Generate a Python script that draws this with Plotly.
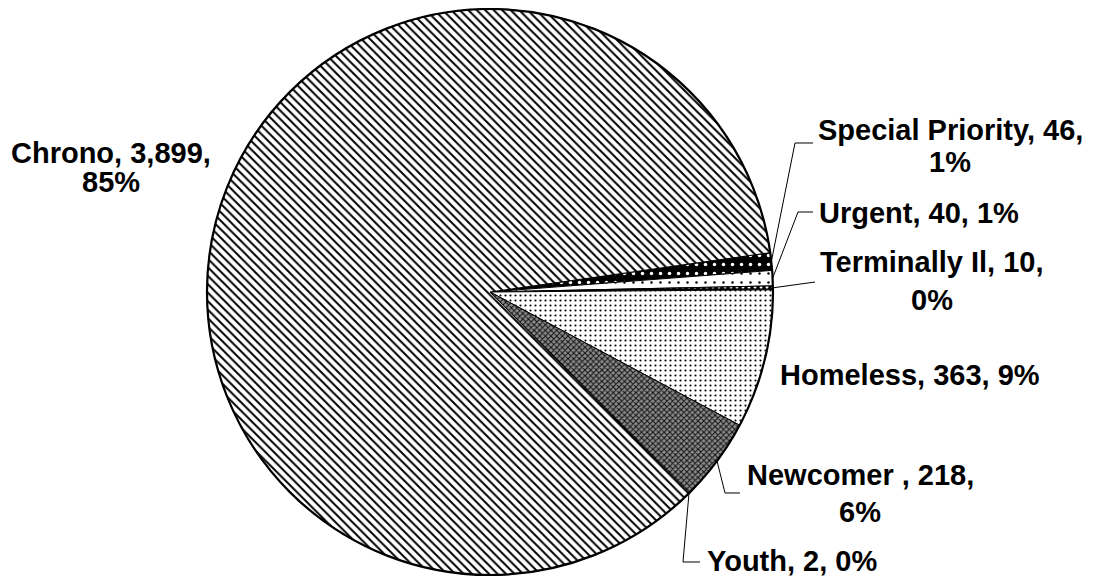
import math
import plotly.graph_objects as go

# slices in drawing order, clockwise starting at Special Priority
categories = ["Special Priority", "Urgent", "Terminally Il", "Homeless", "Newcomer ", "Youth", "Chrono"]
counts = [46, 40, 10, 363, 218, 2, 3899]
pct_labels = ["1%", "1%", "0%", "9%", "6%", "0%", "85%"]

W, H = 1098, 579
OFF = 8  # page body margin the figure sits inside
CX, CY, R = 490, 292, 283  # pie centre / radius in screen px
ROTATION = 82

# fill patterns (black & white print style)
shapes_pat = [".", ".", ".", ".", "x", "x", "\\"]
bg = ["#000000", "#ffffff", "#000000", "#ffffff", "#8c8c8c", "#ffffff", "#ffffff"]
fg = ["#ffffff", "#000000", "#ffffff", "#000000", "#111111", "#000000", "#000000"]
pat_size = [9, 9, 6, 5, 4, 4, 6]
solidity = [0.12, 0.06, 0.2, 0.15, 0.45, 0.3, 0.33]

# label placement: centre x, y of each line, leader elbow/end (screen px)
label_pos = {
    "Special Priority": dict(x=950, y=[130, 162], elbow=(795, 143), end=(813, 143), wrap=True),
    "Urgent": dict(x=919, y=[213], elbow=(798, 212), end=(813, 212), wrap=False),
    "Terminally Il": dict(x=932, y=[262, 300], elbow=None, end=(815, 282), wrap=True),
    "Homeless": dict(x=910, y=[375], wrap=False),
    "Newcomer ": dict(x=860, y=[475, 512], elbow=(725, 493), end=(740, 493), wrap=True),
    "Youth": dict(x=792, y=[561], elbow=(683, 562), end=(700, 562), wrap=False),
    "Chrono": dict(x=111, y=[153, 182], wrap=True),
}


def px(x):
    return (x - OFF) / W


def py(y):
    return 1 - (y - OFF) / H


domain = dict(x=[px(CX - R), px(CX + R)], y=[py(CY + R), py(CY - R)])

fig = go.Figure()
fig.add_trace(go.Pie(
    labels=categories,
    values=counts,
    sort=False,
    direction="clockwise",
    rotation=ROTATION,
    domain=domain,
    textinfo="none",
    marker=dict(
        colors=bg,
        line=dict(color="#000000", width=1),
        pattern=dict(shape=shapes_pat, fgcolor=fg, bgcolor=bg, size=pat_size,
                     solidity=solidity, fillmode="replace"),
    ),
    hovertemplate="%{label}: %{value}<extra></extra>",
    showlegend=False,
))
# heavier outline round the whole pie
fig.add_trace(go.Pie(
    values=[1], sort=False, domain=domain, textinfo="none", hoverinfo="skip",
    marker=dict(colors=["rgba(0,0,0,0)"], line=dict(color="#000000", width=2.2)),
    showlegend=False,
))

total = sum(counts)
font = dict(family="Liberation Sans, Arial, sans-serif", size=29, color="#000000")
annotations = []
shapes = []
start = ROTATION
for cat, cnt, pct in zip(categories, counts, pct_labels):
    span = 360 * cnt / total
    mid = math.radians(start + span / 2)
    start += span
    pos = label_pos[cat]
    head = f"{cat}, {cnt:,},"
    lines = [head, pct] if pos["wrap"] else [f"{head} {pct}"]
    for text, yy in zip(lines, pos["y"]):
        annotations.append(dict(
            x=px(pos["x"]), y=py(yy), xref="paper", yref="paper",
            text=f"<b>{text}</b>", showarrow=False, font=font,
            xanchor="center", yanchor="middle",
        ))
    if "end" in pos:
        sx = CX + R * math.sin(mid)
        sy = CY - R * math.cos(mid)
        pts = [(sx, sy)]
        if pos["elbow"]:
            pts.append(pos["elbow"])
        pts.append(pos["end"])
        path = "M " + " L ".join(f"{px(a):.5f},{py(b):.5f}" for a, b in pts)
        shapes.append(dict(type="path", path=path, xref="paper", yref="paper",
                           line=dict(color="#000000", width=1)))

fig.update_layout(
    width=W, height=H,
    margin=dict(l=0, r=0, t=0, b=0),
    paper_bgcolor="white",
    plot_bgcolor="white",
    showlegend=False,
    annotations=annotations,
    shapes=shapes,
)

fig.write_html("out.html")
